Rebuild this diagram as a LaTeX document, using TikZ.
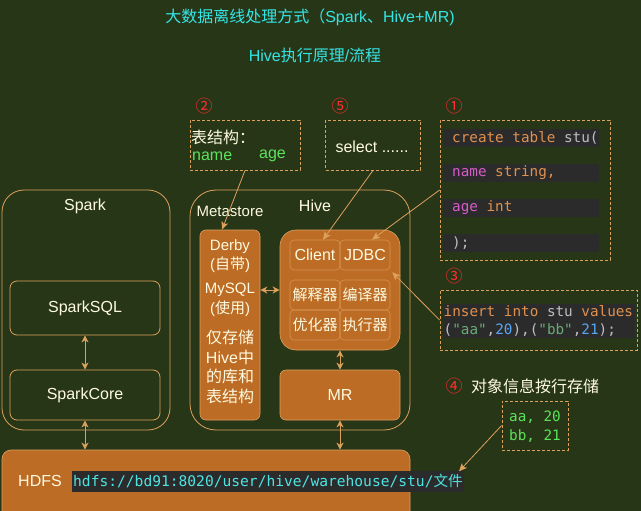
\documentclass[tikz,border=0pt]{standalone}
\usepackage{fontspec}
\setmainfont{Liberation Sans}
\newfontfamily\cjk{Noto Sans CJK SC}
\newfontfamily\code{DejaVu Sans Mono}[WordSpace={1,0,0}]
\usetikzlibrary{arrows.meta,positioning}
\definecolor{bgc}{HTML}{283618}
\definecolor{fillc}{HTML}{BC6C25}
\definecolor{linec}{HTML}{DDA15E}
\definecolor{txtc}{HTML}{FEFAE0}
\definecolor{titlec}{HTML}{33E6E6}
\definecolor{numc}{HTML}{FF2E2E}
\definecolor{greenc}{HTML}{5BE35B}
\definecolor{codebg}{HTML}{2B2B2B}
\definecolor{kwc}{HTML}{E0914F}
\definecolor{idc}{HTML}{BCBEC4}
\definecolor{fldc}{HTML}{D65CC8}
\definecolor{strc}{HTML}{6AAB73}
\definecolor{numbc}{HTML}{56A8F5}
\definecolor{pathc}{HTML}{4EE3E3}
\newcommand{\sqlkw}[1]{\textcolor{kwc}{#1}}
\newcommand{\sqlid}[1]{\textcolor{idc}{#1}}
\newcommand{\sqlfld}[1]{\textcolor{fldc}{#1}}
\newcommand{\sqlstr}[1]{\textcolor{strc}{#1}}
\newcommand{\sqlnum}[1]{\textcolor{numbc}{#1}}
\newcommand{\csp}{\hspace{0.602em}}
\newcommand{\strip}[3]{\makebox[#1][l]{\hspace*{#2}#3}}
\tikzset
{
    container/.style = {draw=linec, line width=0.8pt, rounded corners=22pt, inner sep=0pt},
    lightbox/.style  = {draw=linec, line width=0.8pt, rounded corners=7pt, text=txtc, font=\fontsize{16}{19}\selectfont},
    orangebox/.style = {draw=linec, fill=fillc, line width=0.6pt, rounded corners=7pt, text=txtc, font=\fontsize{16}{19}\selectfont},
    cellbox/.style   = {draw=linec!75!fillc, line width=0.6pt, rounded corners=4pt, inner sep=0pt, text=txtc, minimum width=50pt, minimum height=30pt, font=\fontsize{16}{19}\selectfont},
    dashbox/.style   = {draw=linec, line width=0.8pt, dash pattern=on 3pt off 2pt, inner sep=0pt},
    label/.style     = {text=txtc, inner sep=0pt, font=\fontsize{16}{19}\selectfont},
    title/.style     = {text=titlec, inner sep=0pt, font=\fontsize{16}{19}\selectfont},
    stepnum/.style   = {text=numc, inner sep=0pt, font=\cjk\fontsize{17}{19}\selectfont},
    codeline/.style  = {fill=codebg, anchor=west, align=left, inner xsep=0pt, inner ysep=0pt, font=\code\fontsize{14.3}{18}\selectfont},
    conn/.style      = {draw=linec, line width=0.8pt, -{Stealth[length=8pt,width=7pt,inset=2pt]}},
    link/.style      = {draw=linec, line width=1pt, {Stealth[length=7pt,width=7pt,inset=2pt]}-{Stealth[length=7pt,width=7pt,inset=2pt]}}
}
\begin{document}
\begin{tikzpicture}[x=1pt, y=-1pt]
	\fill[bgc] (0,0) rectangle (641,511);
	\useasboundingbox (0,0) rectangle (641,511);
	% titles
	\node[title] (title) at (310,17) {{\cjk 大数据离线处理方式（}Spark{\cjk 、}Hive+MR)};
	\node[title] (subtitle) at (315,55) {Hive{\cjk 执行原理}/{\cjk 流程}};
	% spark
	\node[container, minimum width=168pt, minimum height=240pt] (spark) at (86,310) {};
	\node[label] (sparklbl) at (85,206) {Spark};
	\node[lightbox, minimum width=150pt, minimum height=54pt] (sparksql) at (85,308) {SparkSQL};
	\node[lightbox, minimum width=150pt, minimum height=50pt] (sparkcore) at (85,395) {SparkCore};
	% hive
	\node[container, rounded corners=26pt, minimum width=220pt, minimum height=240pt] (hive) at (300,310) {};
	\node[label] (hivelbl) at (315,206) {Hive};
	\node[label, font=\fontsize{15}{18}\selectfont] (metalbl) at (230,211) {Metastore};
	\node[orangebox, rounded corners=6pt, minimum width=60pt, minimum height=190pt] (derby) at (230,325) {};
	\node[label, align=center, font=\fontsize{15}{19}\selectfont] (derbytxt) at (230,256.5) {Derby\\({\cjk 自带})};
	\node[label, align=center, font=\fontsize{15}{20}\selectfont] (mysqltxt) at (230,300) {MySQL\\({\cjk 使用})};
	\node[label, align=center, font=\fontsize{16}{19.5}\selectfont] (notetxt) at (230,367) {{\cjk 仅存储}\\Hive{\cjk 中}\\{\cjk 的库和}\\{\cjk 表结构}};
	\node[orangebox, rounded corners=16pt, minimum width=120pt, minimum height=120pt] (hivecore) at (340,290) {};
	\node[cellbox] (client) at (315,255) {Client};
	\node[cellbox] (jdbc) at (365,255) {JDBC};
	\node[cellbox, font=\cjk\fontsize{15}{18}\selectfont] (parser) at (315,295) {解释器};
	\node[cellbox, font=\cjk\fontsize{15}{18}\selectfont] (compiler) at (365,295) {编译器};
	\node[cellbox, font=\cjk\fontsize{15}{18}\selectfont] (optimizer) at (315,325) {优化器};
	\node[cellbox, font=\cjk\fontsize{15}{18}\selectfont] (executor) at (365,325) {执行器};
	\node[orangebox, rounded corners=6pt, minimum width=120pt, minimum height=50pt] (mr) at (340,395) {MR};
	% hdfs
	\node[orangebox, rounded corners=9pt, minimum width=408pt, minimum height=70pt] (hdfs) at (206,485) {};
	\node[label] (hdfslbl) at (40,481) {HDFS};
	\node[codeline, inner xsep=1pt, minimum height=21pt, text=pathc, font=\code\fontsize{14.6}{18}\selectfont] (path) at (72,481) {hdfs://bd91:8020/user/hive/warehouse/stu/{\cjk 文件}};
	% notes
	\node[stepnum] (num2) at (204,106) {②};
	\node[dashbox, minimum width=110pt, minimum height=50pt] (schema) at (245,145) {};
	\node[label, anchor=west, font=\cjk\fontsize{16}{19}\selectfont] (schemahead) at (191,137) {表结构：};
	\node[label, anchor=west, text=greenc] (namefld) at (192,156) {name};
	\node[label, anchor=west, text=greenc] (agefld) at (259,156) {age};
	\node[stepnum] (num5) at (340,106) {⑤};
	\node[dashbox, minimum width=95pt, minimum height=50pt] (select) at (373,145) {};
	\node[label] (selecttxt) at (372,147) {select ......};
	\node[stepnum] (num1) at (454,106) {①};
	\node[dashbox, minimum width=170pt, minimum height=140pt] (create) at (525,190) {};
	\node[codeline, minimum height=18pt] (code1) at (443,138) {\strip{156pt}{9pt}{\sqlkw{create\csp table}\csp\sqlid{stu(}}};
	\node[codeline, minimum height=18pt] (code2) at (443,173) {\strip{156pt}{9pt}{\sqlfld{name}\csp\sqlkw{string,}}};
	\node[codeline, minimum height=18pt] (code3) at (443,208) {\strip{156pt}{9pt}{\sqlfld{age}\csp\sqlkw{int}}};
	\node[codeline, minimum height=18pt] (code4) at (443,243) {\strip{156pt}{9pt}{\sqlid{);}}};
	\node[stepnum] (num3) at (454,276) {③};
	\node[dashbox, minimum width=197pt, minimum height=60pt] (insert) at (538.5,320) {};
	\node[codeline, inner ysep=2pt] (code5) at (443,321) {\strip{192pt}{0.5pt}{\sqlkw{insert\csp into}\csp\sqlid{stu}\csp\sqlkw{values}}\\\strip{192pt}{0.5pt}{\sqlid{(}\sqlstr{"aa"}\sqlid{,}\sqlnum{20}\sqlid{),(}\sqlstr{"bb"}\sqlid{,}\sqlnum{21}\sqlid{);}}};
	\node[stepnum] (num4) at (454,386) {④};
	\node[label, anchor=west, font=\cjk\fontsize{16}{19}\selectfont] (storetxt) at (471,386) {对象信息按行存储};
	\node[dashbox, minimum width=66pt, minimum height=49pt] (rows) at (535,425.5) {};
	\node[label, anchor=west, align=left, text=greenc, font=\code\fontsize{14.3}{19}\selectfont] (rowstxt) at (509,426.5) {aa,\csp 20\\bb,\csp 21};
	% links
	\draw[link] (sparksql) -- (sparkcore);
	\draw[link] (sparkcore.south) -- (sparkcore.south |- hdfs.north);
	\draw[link] (derby.east |- hivecore.west) -- (hivecore.west);
	\draw[link] (hivecore) -- (mr);
	\draw[link] (mr.south) -- (mr.south |- hdfs.north);
	% connectors
	\draw[conn] (schema.south) -- ([xshift=-8pt]derby.north);
	\draw[conn] (select.south) -- ([xshift=8pt]client.north);
	\draw[conn] (create.west) -- ([xshift=7pt]jdbc.north);
	\draw[conn] (insert.west) -- ([shift={(2pt,-2pt)}]jdbc.south east);
	\draw[conn] (rows.west) -- ([xshift=-5pt,yshift=-1pt]path.north east);
\end{tikzpicture}
\end{document}
